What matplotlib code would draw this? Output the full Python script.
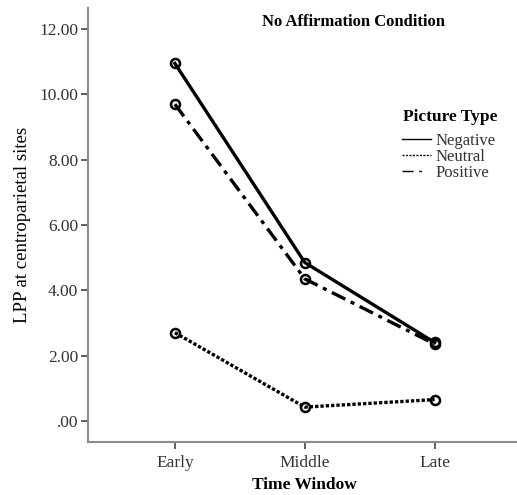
import matplotlib
matplotlib.use("Agg")
import matplotlib.pyplot as plt
from matplotlib.lines import Line2D

# Mean LPP amplitude per time window and picture type
time_windows = ["Early", "Middle", "Late"]
negative = [10.95, 4.85, 2.40]
neutral = [2.70, 0.42, 0.65]
positive = [9.70, 4.35, 2.35]
y_ticks = [0, 2, 4, 6, 8, 10, 12]
y_tick_labels = [".00", "2.00", "4.00", "6.00", "8.00", "10.00", "12.00"]

plt.rcParams["font.family"] = ["Liberation Serif", "DejaVu Serif"]

fig = plt.figure(figsize=(5.17, 4.95), dpi=100)
ax = fig.add_axes([0.170, 0.107, 0.839, 0.877])

x = [1, 2, 3]
common = dict(color="black", lw=2.4, marker="o", markersize=6.5,
              markerfacecolor="none", markeredgecolor="black", markeredgewidth=1.8)
ax.plot(x, negative, linestyle="-", **common)
ax.plot(x, neutral, linestyle=(0, (1.0, 0.6)), **common)
ax.plot(x, positive, linestyle=(0, (4.5, 1.8, 1.2, 1.8)), **common)

ax.set_xlim(0.33, 3.67)
ax.set_ylim(-0.65, 12.65)
ax.set_xticks(x)
ax.set_xticklabels(time_windows)
ax.set_yticks(y_ticks)
ax.set_yticklabels(y_tick_labels)

for side in ("top", "right"):
    ax.spines[side].set_visible(False)
for side in ("left", "bottom"):
    ax.spines[side].set_color("#8a8a8a")
    ax.spines[side].set_linewidth(1.5)
ax.tick_params(axis="both", colors="#444444", labelsize=12.5, length=5, width=1.2,
               labelcolor="#333333")
ax.tick_params(axis="x", pad=4)
ax.tick_params(axis="y", pad=2)

ax.set_xlabel("Time Window", fontsize=12.5, fontweight="bold", labelpad=5)
ax.set_ylabel("LPP at centroparietal sites", fontsize=13.5, labelpad=6)

fig.text(0.683, 0.956, "No Affirmation Condition", fontsize=12,
         fontweight="bold", ha="center", va="center")

# Legend: bold heading above three short line samples
fig.text(0.779, 0.764, "Picture Type", fontsize=12.5, fontweight="bold",
         ha="left", va="center")
handles = [
    Line2D([], [], color="black", lw=1.0, linestyle="-"),
    Line2D([], [], color="black", lw=1.0, linestyle=(0, (1.5, 1.0))),
    Line2D([], [], color="black", lw=1.0, linestyle=(0, (8, 4, 2, 20))),
]
leg = fig.legend(handles, ["Negative", "Neutral", "Positive"],
                 loc="upper left", bbox_to_anchor=(0.778, 0.732), frameon=False,
                 fontsize=12, handlelength=1.7, handletextpad=0.3,
                 labelspacing=0.02, borderpad=0.0, borderaxespad=0.0)
for t in leg.get_texts():
    t.set_color("#333333")

fig.savefig("out.png", dpi=100)
